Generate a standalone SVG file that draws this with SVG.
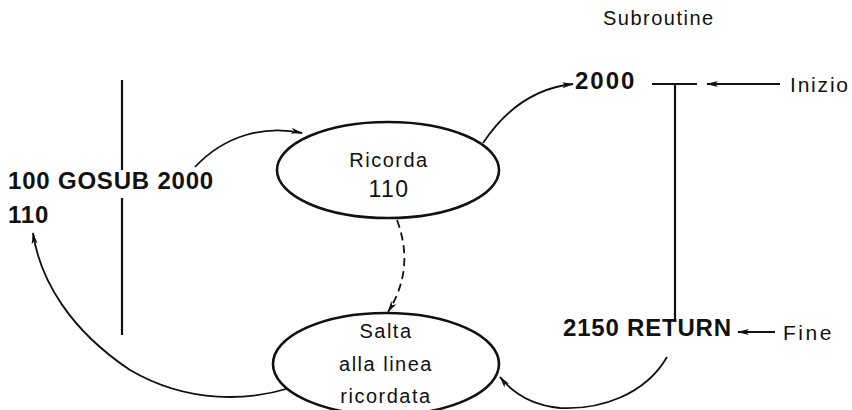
<svg xmlns="http://www.w3.org/2000/svg" width="852" height="410" viewBox="0 0 852 410">
<style>
.ln{fill:none;stroke:#111;stroke-width:2.2}
.ar{fill:none;stroke:#111;stroke-width:1.8}
.ds{fill:none;stroke:#111;stroke-width:1.8;stroke-dasharray:8 5}
.el{fill:#fff;stroke:#111;stroke-width:2.6}
.b{font-family:"Liberation Sans",Arial,sans-serif;font-weight:bold;font-size:24px;letter-spacing:0.8px;fill:#111}
.r{font-family:"Liberation Sans",Arial,sans-serif;font-size:20px;letter-spacing:1.5px;fill:#111}
.c{text-anchor:middle}
</style>
<defs>
<marker id="ah" viewBox="0 0 12 8" refX="11" refY="4" markerWidth="12" markerHeight="8" markerUnits="userSpaceOnUse" orient="auto">
<path d="M0,1 L12,4 L0,7 L3,4 Z" fill="#111"/>
</marker>
</defs>
<rect width="852" height="410" fill="#fff"/>
<g id="connectors">
<line class="ln" x1="122" y1="80" x2="122" y2="170"/>
<line class="ln" x1="122" y1="198" x2="122" y2="335"/>
<line class="ln" x1="652" y1="84" x2="697" y2="84"/>
<line class="ln" x1="675" y1="84" x2="675" y2="322"/>
<path class="ar" d="M195,167 C225,135 265,125 302,133" marker-end="url(#ah)"/>
<path class="ar" d="M483,143 C505,110 535,88 573,84" marker-end="url(#ah)"/>
<path class="ds" d="M397,220 C410,255 405,285 388,312" marker-end="url(#ah)"/>
<path class="ar" d="M667,357 C645,395 600,410 560,408 C530,405 512,392 500,377" marker-end="url(#ah)"/>
<path class="ar" d="M290,388 C250,400 190,405 130,370 C70,330 40,280 33,233" marker-end="url(#ah)"/>
<line class="ar" x1="780" y1="84" x2="707" y2="84" marker-end="url(#ah)"/>
<line class="ar" x1="775" y1="332" x2="738" y2="332" marker-end="url(#ah)"/>
</g>
<g id="ricorda">
<ellipse class="el" cx="388" cy="170" rx="111" ry="48"/>
<text class="r c" x="389" y="167">Ricorda</text>
<text class="r c" x="389" y="197" style="font-size:23px">110</text>
</g>
<g id="salta">
<ellipse class="el" cx="386" cy="364" rx="113" ry="51"/>
<text class="r c" x="386" y="338">Salta</text>
<text class="r c" x="386" y="371">alla linea</text>
<text class="r c" x="386" y="403">ricordata</text>
</g>
<g id="main">
<text class="b" x="8" y="189">100 GOSUB 2000</text>
<text class="b" x="8" y="223">110</text>
</g>
<g id="sub">
<text class="r" x="603" y="25">Subroutine</text>
<text class="b" x="575" y="89" style="letter-spacing:2px">2000</text>
<text class="b" x="563" y="336">2150 RETURN</text>
</g>
<g id="labels">
<text class="r" x="790" y="92" style="font-size:21px;letter-spacing:1.8px">Inizio</text>
<text class="r" x="783" y="340" style="font-size:21px;letter-spacing:2.5px">Fine</text>
</g>
</svg>
